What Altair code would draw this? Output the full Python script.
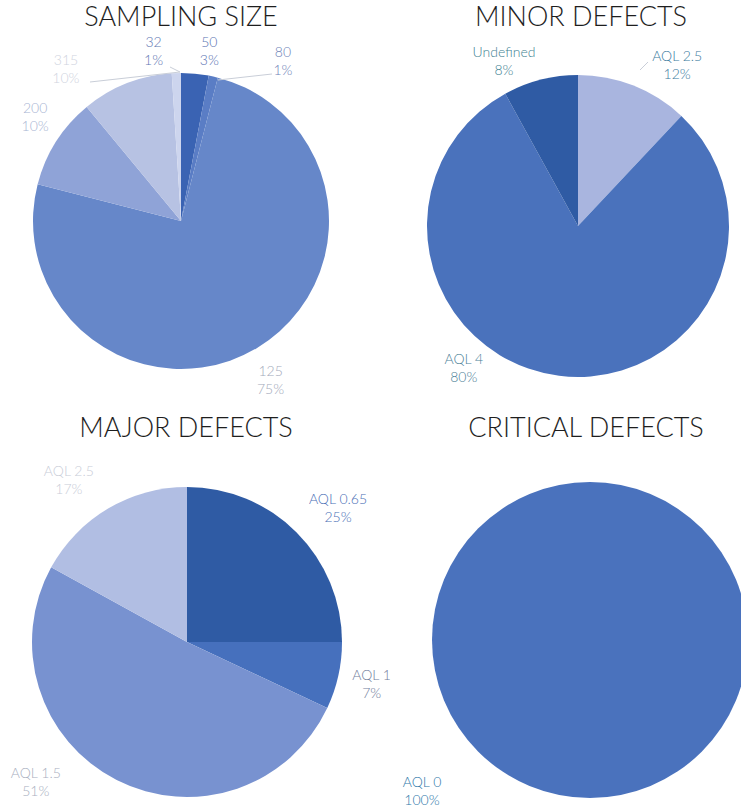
import math

import altair as alt
import pandas as pd

# ---- data -------------------------------------------------------------
sampling_labels = ["50", "80", "125", "200", "315", "32"]
sampling_pct = [3, 1, 75, 10, 10, 1]

minor_labels = ["AQL 2.5", "AQL 4", "Undefined"]
minor_pct = [12, 80, 8]

major_labels = ["AQL 0.65", "AQL 1", "AQL 1.5", "AQL 2.5"]
major_pct = [25, 7, 51, 17]

critical_labels = ["AQL 0"]
critical_pct = [100]

titles = ["SAMPLING SIZE", "MINOR DEFECTS", "MAJOR DEFECTS", "CRITICAL DEFECTS"]

# ---- styling ------------------------------------------------------------
FONT = "Lato"
LINE_H = 18
THETA = alt.Scale(domain=[0, 100], range=[0, 2 * math.pi])


def frame(labels, pct):
    """Slice table: start/end/mid of each slice on a 0..100 scale."""
    df = pd.DataFrame({"cat": labels, "pct": pct})
    df["end"] = df["pct"].cumsum()
    df["start"] = df["end"] - df["pct"]
    df["mid"] = (df["start"] + df["end"]) / 2
    df["text"] = df["cat"] + "\n" + df["pct"].astype(str) + "%"
    return df


pies = [
    dict(
        title=titles[0], labels=sampling_labels, pct=sampling_pct,
        cx=181, cy=221, r=148, tx=181, ty=18,
        fill=["#3a63b3", "#5a7dc5", "#6687c9", "#8fa3d7", "#b7c2e3", "#cdd5ee"],
        ink={"50": "#5b75b3", "80": "#6f84b8", "125": "#a3aabb",
             "200": "#a9b5d3", "315": "#d0d4e0", "32": "#5f78b3"},
        nudge={"50": (12, 4), "80": (64, 11), "125": (1, 10),
               "200": (1, -10), "315": (-51, 11), "32": (-22, 5)},
    ),
    dict(
        title=titles[1], labels=minor_labels, pct=minor_pct,
        cx=578, cy=226, r=151, tx=581, ty=18,
        fill=["#a9b5df", "#4a72bc", "#2f5ba4"],
        ink={"AQL 2.5": "#3c7ba0", "AQL 4": "#4d8299", "Undefined": "#3f8393"},
        nudge={"AQL 2.5": (34, 5), "AQL 4": (-92, -33), "Undefined": (-30, 7)},
    ),
    dict(
        title=titles[2], labels=major_labels, pct=major_pct,
        cx=187, cy=642, r=155, tx=186, ty=429,
        fill=["#2f5ba4", "#4670bd", "#7892d0", "#b1bee3"],
        ink={"AQL 0.65": "#4b70b6", "AQL 1": "#717e9c",
             "AQL 1.5": "#a9afc0", "AQL 2.5": "#c9cdd8"},
        nudge={"AQL 0.65": (23, -5), "AQL 1": (8, 4),
               "AQL 1.5": (-69, -20), "AQL 2.5": (-26, -5)},
    ),
    dict(
        title=titles[3], labels=critical_labels, pct=critical_pct,
        cx=590, cy=640, r=158, tx=586, ty=429,
        fill=["#4a72bd"],
        ink={"AQL 0": "#2f79aa"},
        nudge={"AQL 0": (-168, -32)},
    ),
]

layers = []
for p in pies:
    df = frame(p["labels"], p["pct"])
    base = alt.Chart(df)

    layers.append(
        base.mark_arc(outerRadius=p["r"], strokeWidth=0).encode(
            theta=alt.Theta("start:Q", scale=THETA, stack=False),
            theta2="end:Q",
            color=alt.Color(
                "cat:N",
                scale=alt.Scale(domain=p["labels"], range=p["fill"]),
                legend=None,
            ),
            x=alt.value(p["cx"]),
            y=alt.value(p["cy"]),
        )
    )

    for lab in p["labels"]:
        dx, dy = p["nudge"][lab]
        layers.append(
            base.transform_filter(alt.datum.cat == lab)
            .mark_text(
                radius=p["r"] + 26, dx=dx, dy=dy - LINE_H / 2, lineBreak="\n",
                lineHeight=LINE_H, font=FONT, fontSize=14, fontWeight=300,
                align="center", baseline="middle", color=p["ink"][lab],
            )
            .encode(
                theta=alt.Theta("mid:Q", scale=THETA, stack=False),
                text="text:N",
                x=alt.value(p["cx"]),
                y=alt.value(p["cy"]),
            )
        )

    layers.append(
        alt.Chart(pd.DataFrame({"t": [p["title"]]}))
        .mark_text(font=FONT, fontSize=27, fontWeight=300, color="#1e1e1e",
                   align="center", baseline="middle")
        .encode(text="t:N", x=alt.value(p["tx"]), y=alt.value(p["ty"]))
    )

# thin leader lines joining crowded labels to their slices
leaders = [
    ((90, 82), (180, 72)),
    ((170, 67), (180, 72)),
    ((218, 80), (272, 74)),
    ((640, 70), (648, 62)),
]
for (x1, y1), (x2, y2) in leaders:
    layers.append(
        alt.Chart(pd.DataFrame({"k": [0]}))
        .mark_rule(color="#c9ced8", strokeWidth=1)
        .encode(x=alt.value(x1), y=alt.value(y1), x2=alt.value(x2), y2=alt.value(y2))
    )

chart = (
    alt.layer(*layers)
    .resolve_scale(color="independent")
    .properties(width=741, height=810, padding=0,
                autosize=alt.AutoSizeParams(type="none"))
    .configure_view(stroke=None)
)

chart.save("out.html", embed_options={"renderer": "svg", "actions": False})
